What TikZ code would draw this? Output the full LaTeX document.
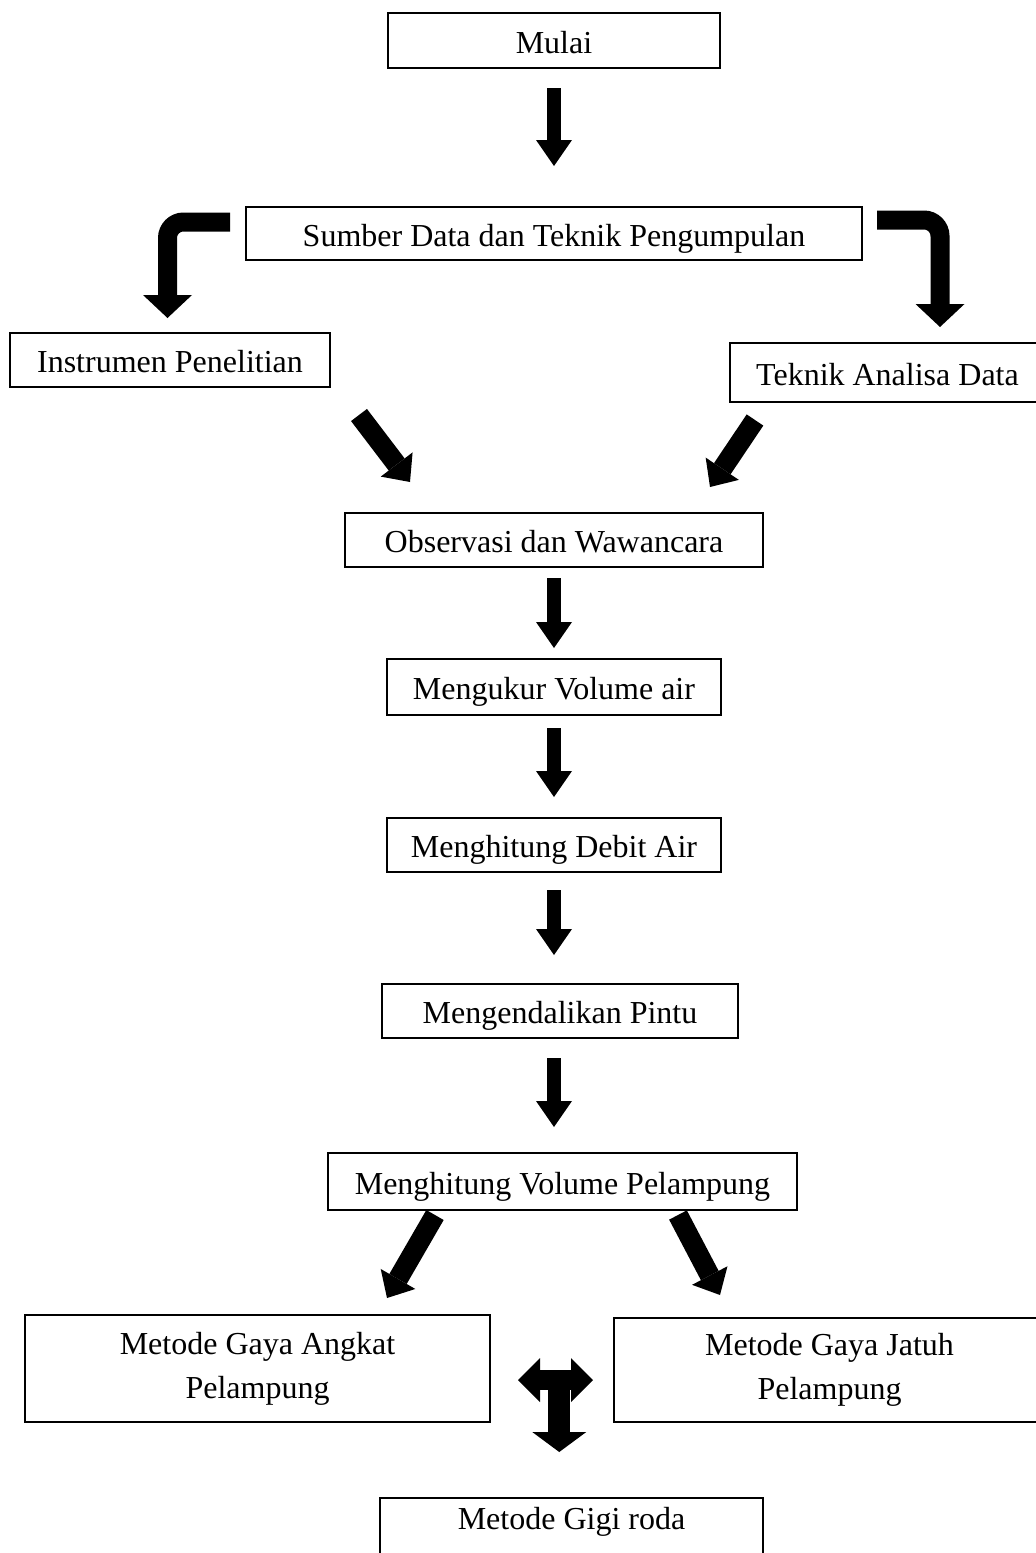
\documentclass[tikz,border=0pt]{standalone}
\usepackage{fontspec}
\setmainfont{Liberation Serif}
\usetikzlibrary{arrows.meta, positioning}

\begin{document}
\begin{tikzpicture}[
    node distance=20pt and 20pt,
    stepbox/.style={draw, line width=0.8pt, font=\fontsize{16}{22}\selectfont, inner sep=2pt, outer sep=0pt, align=center},
    linebox/.style={stepbox, text height=12.5pt, text depth=0pt},
    blockdown/.style={line width=7pt, -{Triangle[length=13pt, width=18pt, line width=0pt]}},
    blockdiag/.style={line width=10pt, -{Triangle[length=11pt, width=20pt, line width=0pt]}},
    blockbent/.style={line width=9.5pt, rounded corners=8pt, -{Triangle[length=11.5pt, width=24.5pt, line width=0pt]}},
    blocktee/.style={line width=10pt, {Triangle[length=11pt, width=22pt, line width=0pt]}-{Triangle[length=11pt, width=22pt, line width=0pt]}}
]
    \useasboundingbox (0,0) rectangle (518pt,-776.5pt);

    % Main column
    \node[linebox, minimum width=166pt, minimum height=27.5pt] (mulai) at (277pt,-20.25pt) {Mulai};
    \node[linebox, minimum width=308pt, minimum height=26.5pt, below=69.5pt of mulai] (sumber) {Sumber Data dan Teknik Pengumpulan};
    \node[linebox, minimum width=209pt, minimum height=27pt, below=126.5pt of sumber] (obs) {Observasi dan Wawancara};
    \node[linebox, minimum width=167pt, minimum height=28pt, below=46pt of obs] (ukur) {Mengukur Volume air};
    \node[linebox, minimum width=167pt, minimum height=27pt, below=51.5pt of ukur] (debit) {Menghitung Debit Air};
    \node[linebox, minimum width=178pt, minimum height=27pt, below=56pt of debit, xshift=3pt] (pintu) {Mengendalikan Pintu};
    \node[linebox, minimum width=234.5pt, minimum height=28.5pt, below=57.5pt of pintu, xshift=1.25pt] (volume) {Menghitung Volume Pelampung};

    % Side branches
    \node[linebox, minimum width=160pt, minimum height=27pt, below=36.5pt of sumber, xshift=-192pt] (instr) {Instrumen Penelitian};
    \node[linebox, minimum width=157.5pt, minimum height=29.5pt, below=41.5pt of sumber, xshift=166.75pt] (analisa) {Teknik Analisa Data};

    % Methods
    \node[stepbox, minimum width=232.5pt, minimum height=53.5pt, below=52.5pt of volume, xshift=-152.5pt] (angkat) {Metode Gaya Angkat\\Pelampung};
    \node[stepbox, minimum width=215.5pt, minimum height=52pt, below=54pt of volume, xshift=133.5pt] (jatuh) {Metode Gaya Jatuh\\Pelampung};
    \node[linebox, minimum width=191.5pt, minimum height=30pt, text depth=11.5pt, below=144pt of volume, xshift=4.5pt] (gigi) {Metode Gigi roda};

    % Block arrows
    \draw[blockdown, shorten <=10pt, shorten >=20.5pt] (mulai) -- (sumber);
    \draw[blockbent] ([xshift=-8pt, yshift=5.75pt]sumber.west) -| ([xshift=-1.25pt, yshift=7.5pt]instr.north);
    \draw[blockbent] ([xshift=7.5pt, yshift=6.75pt]sumber.east) -| ([xshift=26.25pt, yshift=8pt]analisa.north);
    \draw[blockdiag] ([xshift=14.5pt, yshift=-14pt]instr.south east) -- ([xshift=32.5pt, yshift=15.5pt]obs.north west);
    \draw[blockdiag] ([xshift=12.5pt, yshift=-9pt]analisa.south west) -- ([xshift=-26.5pt, yshift=13pt]obs.north east);
    \draw[blockdown, shorten <=5.5pt, shorten >=5.5pt] (obs) -- (ukur);
    \draw[blockdown, shorten <=6.5pt, shorten >=10.5pt] (ukur) -- (debit);
    \draw[blockdown, shorten <=9pt, shorten >=14.5pt] (debit.south) -- (debit.south |- pintu.north);
    \draw[blockdown, shorten <=10pt, shorten >=13pt] (debit.south |- pintu.south) -- (debit.south |- volume.north);
    \draw[blockdiag] ([xshift=53.5pt, yshift=-2.5pt]volume.south west) -- ([xshift=-51.5pt, yshift=8.5pt]angkat.north east);
    \draw[blockdiag] ([xshift=-59.5pt, yshift=-2.5pt]volume.south east) -- ([xshift=53pt, yshift=11.5pt]jatuh.north west);

    % T-shaped arrow between the methods
    \draw[blocktee] ([xshift=14pt, yshift=-5.75pt]angkat.east) -- ([xshift=-10.5pt, yshift=-5.75pt]angkat.east -| jatuh.west) coordinate[pos=0.55] (tee);
    \draw[line width=11pt, -{Triangle[length=10pt, width=27pt, line width=0pt]}, shorten >=23pt] (tee) -- (tee |- gigi.north);
\end{tikzpicture}
\end{document}
